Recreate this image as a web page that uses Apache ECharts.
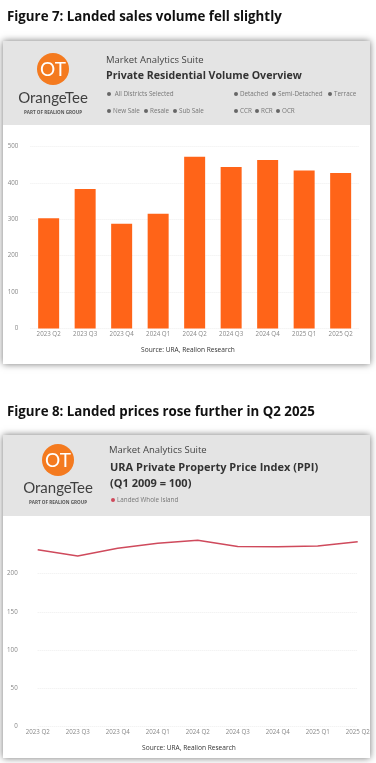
<!DOCTYPE html>
<html>
<head>
<meta charset="utf-8">
<style>
  html, body { margin: 0; padding: 0; background: #fff; }
  #main { width: 376px; height: 763px; }
</style>
<script src="https://cdn.jsdelivr.net/npm/echarts@6/dist/echarts.min.js"></script>
</head>
<body>
<div id="main"></div>
<script>
const quarters = ['2023 Q2', '2023 Q3', '2023 Q4', '2024 Q1', '2024 Q2', '2024 Q3', '2024 Q4', '2025 Q1', '2025 Q2']
const salesVolume = [303, 383, 288, 315, 472, 444, 463, 434, 427]
const priceIndex = [231, 223, 233, 239.5, 243.5, 235.5, 235, 236, 241.5]

const FONT = '"Open Sans", sans-serif'
const ORANGE = '#ff6418'
const RED = '#cf4a5c'

let myChart = echarts.init(document.getElementById('main'))

function text(x, y, str, size, color, extra) {
  return {
    type: 'text',
    x: x,
    y: y,
    z: 5,
    style: Object.assign({
      text: str,
      fontFamily: FONT,
      fontSize: size,
      fill: color,
      textVerticalAlign: 'middle'
    }, extra || {})
  }
}

function dot(x, y, color, r) {
  return { type: 'circle', z: 5, shape: { cx: x, cy: y, r: r || 2 }, style: { fill: color } }
}

function panel(top, headerBottom, bottom) {
  return [
    {
      type: 'rect',
      z: 1,
      shape: { x: 3, y: top, width: 367, height: bottom - top },
      style: { fill: '#fff', shadowBlur: 7, shadowColor: 'rgba(0,0,0,0.55)' }
    },
    {
      type: 'rect',
      z: 2,
      shape: { x: 3, y: top, width: 367, height: headerBottom - top },
      style: { fill: '#e4e4e4' }
    }
  ]
}

function logo(cx, cy, nameGap, subGap) {
  return [
    dot(cx, cy, '#f47a1f', 16),
    text(cx, cy + 1, 'OT', 19, '#fff', { textAlign: 'center', fontFamily: 'Lato, sans-serif' }),
    text(cx, cy + nameGap, 'OrangeTee', 15, '#3f3f3f', { textAlign: 'center', fontFamily: 'Lato, sans-serif' }),
    text(cx, cy + subGap, 'PART OF REALION GROUP', 4.6, '#555', { textAlign: 'center', fontWeight: 'bold' })
  ]
}

// [dot x, y, label]
const filters = [
  [109, 94, ' All Districts Selected'],
  [236, 94, 'Detached'],
  [274, 94, 'Semi-Detached'],
  [330, 94, 'Terrace'],
  [109, 111, 'New Sale'],
  [146, 111, 'Resale'],
  [175, 111, 'Sub Sale'],
  [236, 111, 'CCR'],
  [257, 111, 'RCR'],
  [278, 111, 'OCR']
]

let graphics = [].concat(
  text(7, 17, 'Figure 7: Landed sales volume fell slightly', 13.3, '#111', { fontWeight: 'bold' }),
  panel(41, 125, 364),
  logo(53, 69, 29, 44),
  text(106, 60, 'Market Analytics Suite', 9.5, '#444'),
  text(106, 76, 'Private Residential Volume Overview', 10.6, '#333', { fontWeight: 'bold' })
)
filters.forEach(function (f) {
  graphics.push(dot(f[0], f[1], '#666'))
  graphics.push(text(f[0] + 4, f[1], f[2], 6.3, '#777'))
})
graphics = graphics.concat(
  text(7, 412, 'Figure 8: Landed prices rose further in Q2 2025', 13.3, '#111', { fontWeight: 'bold' }),
  text(188, 350, 'Source: URA, Realion Research', 6.6, '#333', { textAlign: 'center' }),
  panel(435, 516, 758),
  logo(58, 460, 28, 43),
  text(109, 450, 'Market Analytics Suite', 9.5, '#444'),
  text(110, 468, 'URA Private Property Price Index (PPI)', 11, '#333', { fontWeight: 'bold' }),
  text(110, 484, '(Q1 2009 = 100)', 11, '#333', { fontWeight: 'bold' }),
  dot(113, 500, RED),
  text(117, 500, 'Landed Whole Island', 6.3, '#777'),
  text(189, 748, 'Source: URA, Realion Research', 6.6, '#333', { textAlign: 'center' })
)

const axisText = { color: '#888', fontSize: 6.2, fontFamily: FONT }
const gridLine = { lineStyle: { color: '#eeeeee', type: 'dotted', width: 1 } }

let option = {
  animation: false,
  backgroundColor: '#fff',
  graphic: graphics,
  grid: [
    { left: 30.4, width: 328.5, top: 146.5, height: 182, outerBoundsMode: 'none' },
    { left: 37.7, width: 320, top: 535.3, height: 191.2, outerBoundsMode: 'none' }
  ],
  xAxis: [
    {
      gridIndex: 0,
      z: 3,
      type: 'category',
      data: quarters,
      axisLine: { show: false },
      axisTick: { show: false },
      axisLabel: Object.assign({ margin: 3, interval: 0 }, axisText)
    },
    {
      gridIndex: 1,
      z: 3,
      type: 'category',
      data: quarters,
      boundaryGap: false,
      axisLine: { show: false },
      axisTick: { show: false },
      axisLabel: Object.assign({ margin: 3, interval: 0 }, axisText)
    }
  ],
  yAxis: [
    {
      gridIndex: 0,
      z: 3,
      type: 'value',
      min: 0,
      max: 500,
      interval: 100,
      axisLabel: Object.assign({ margin: 12 }, axisText),
      splitLine: gridLine
    },
    {
      gridIndex: 1,
      z: 3,
      type: 'value',
      min: 0,
      max: 250,
      interval: 50,
      axisLabel: Object.assign({ margin: 20, showMaxLabel: false }, axisText),
      splitLine: Object.assign({ showMaxLine: false }, gridLine)
    }
  ],
  series: [
    {
      name: 'Volume',
      type: 'bar',
      xAxisIndex: 0,
      yAxisIndex: 0,
      barWidth: 21,
      itemStyle: { color: ORANGE },
      z: 4,
      data: salesVolume
    },
    {
      name: 'Landed Whole Island',
      type: 'line',
      xAxisIndex: 1,
      yAxisIndex: 1,
      symbol: 'none',
      lineStyle: { color: RED, width: 1.5 },
      z: 4,
      data: priceIndex
    }
  ]
}
myChart.setOption(option)
</script>
</body>
</html>
